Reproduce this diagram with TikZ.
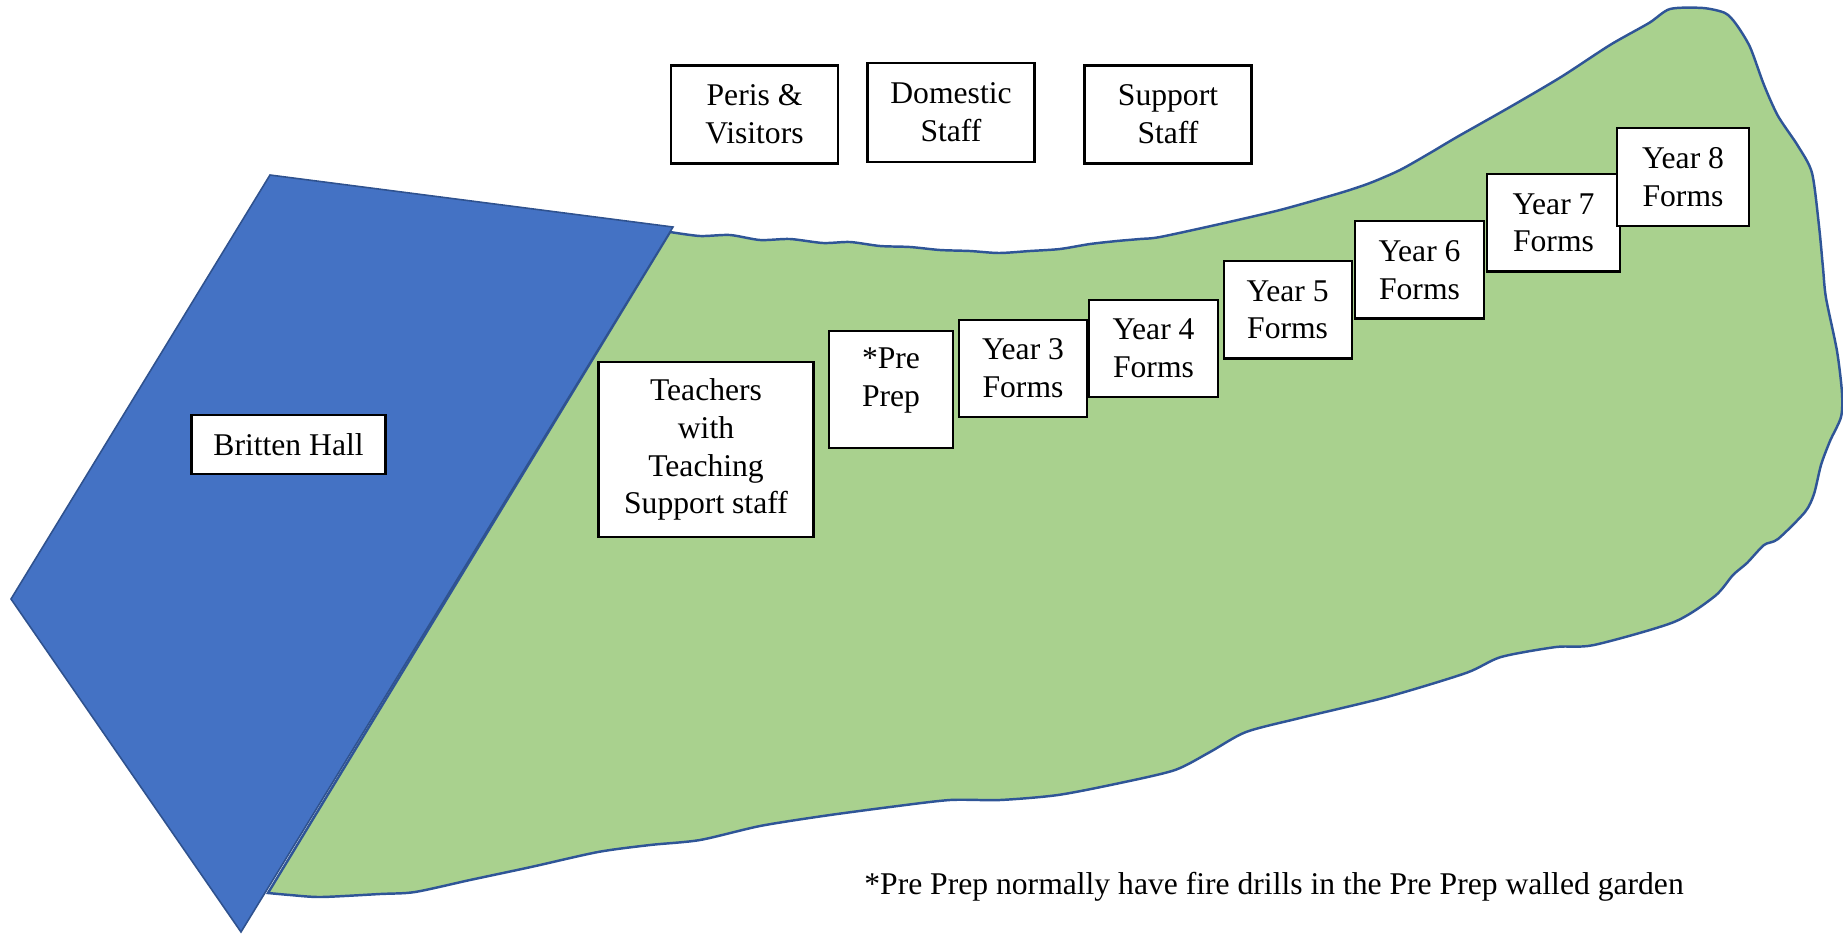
\documentclass[tikz,border=0pt]{standalone}
\usepackage{fontspec}
\setmainfont{Liberation Serif}
\definecolor{hallblue}{HTML}{4472C4}
\definecolor{halledge}{HTML}{2F528F}
\definecolor{grass}{HTML}{A9D18E}
\definecolor{grassedge}{HTML}{2F5597}
\tikzset{
  room/.style={draw=black, line width=1.2pt, fill=white, inner sep=0pt, align=center,
    font=\fontsize{18}{21.5}\selectfont},
  label/.style={inner sep=0pt, align=center, font=\fontsize{18}{21.5}\selectfont}
}
\begin{document}
\begin{tikzpicture}[x=0.02cm,y=-0.02cm]
\useasboundingbox (0,0) rectangle (1843,934);
% green field
\filldraw[fill=grass, draw=grassedge, line width=1.4pt]
 plot[smooth, tension=0.45] coordinates {
 (670,232) (700,236) (730,235) (760,240) (790,239) (823,243) (850,242) (880,246) (910,247)
 (940,250) (970,251) (999,253) (1030,251) (1060,249) (1090,244) (1117,241) (1140,239) (1160,237)
 (1220,224) (1280,210) (1340,193) (1370,183) (1400,170) (1430,153) (1457,137) (1510,107) (1561,77)
 (1610,45) (1649,23) (1670,9) (1703,8) (1725,13) (1736,24) (1750,47) (1764,85) (1778,116) (1798,146)
 (1812,173) (1819,226) (1823,268) (1826,298) (1837,351) (1842,393) (1841,417) (1830,441)
 (1821,465) (1814,494) (1805,512) (1778,539) (1764,545) (1747,563) (1733,575) (1715,596)
 (1674,622) (1594,645) (1556,647) (1501,657) (1466,673) (1387,697) (1300,718) (1246,732)
 (1210,752) (1175,770) (1120,783) (1058,795) (1000,800) (950,800) (890,807) (823,816) (760,826) (700,840)
 (650,845) (598,852) (531,867) (470,880) (415,892) (380,894) (321,897) (290,895) (268,893)
 } -- cycle;
% Britten Hall block
\filldraw[fill=hallblue, draw=halledge, line width=0.9pt]
 (270,175) -- (673,227) -- (241,932) -- (11,599) -- cycle;
% rooms
\node[room, minimum width=3.88cm, minimum height=1.17cm] (britten) at (288.5,444.4) {Britten Hall};
\node[room, minimum width=3.34cm, minimum height=1.96cm] (peris) at (754.5,114.5) {Peris \&\\Visitors};
\node[room, minimum width=3.34cm, minimum height=1.98cm] (domestic) at (951,112.5) {Domestic\\Staff};
\node[room, minimum width=3.34cm, minimum height=1.96cm] (support) at (1168,114.5) {Support\\Staff};
\node[room, minimum width=4.30cm, minimum height=3.50cm] (teachers) at (706,449.5) {Teachers\\with\\Teaching\\Support staff};
\node[room, minimum width=2.48cm, minimum height=2.35cm] (preprep) at (891,389.4) {};
\node[label] (preptext) at (891,380.5) {*Pre\\Prep};
\node[room, minimum width=2.56cm, minimum height=1.95cm] (y3) at (1023,368.4) {Year 3\\Forms};
\node[room, minimum width=2.58cm, minimum height=1.94cm] (y4) at (1153.5,348.5) {Year 4\\Forms};
\node[room, minimum width=2.56cm, minimum height=1.95cm] (y5) at (1287.6,309.8) {Year 5\\Forms};
\node[room, minimum width=2.58cm, minimum height=1.95cm] (y6) at (1419.5,269.8) {Year 6\\Forms};
\node[room, minimum width=2.66cm, minimum height=1.95cm] (y7) at (1553.5,222.8) {Year 7\\Forms};
\node[room, minimum width=2.64cm, minimum height=1.96cm] (y8) at (1683,177) {Year 8\\Forms};
\node[label, anchor=west] (note) at (864,887) {*Pre Prep normally have fire drills in the Pre Prep walled garden};
\end{tikzpicture}
\end{document}
